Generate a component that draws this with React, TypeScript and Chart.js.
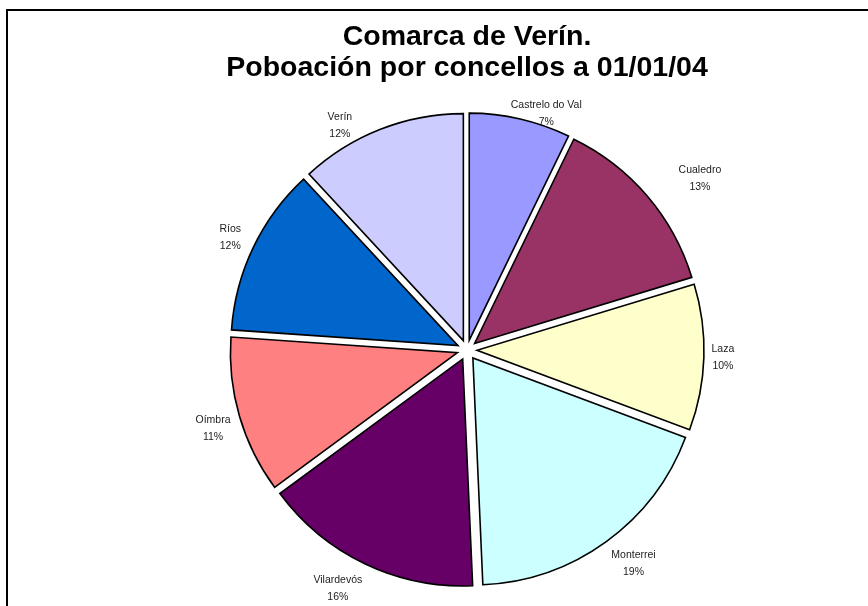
import React, { useEffect, useRef } from 'react';
import { Chart, registerables } from 'chart.js';

Chart.register(...registerables);

// ---- data ----
const CATEGORIES = ['Castrelo do Val', 'Cualedro', 'Laza', 'Monterrei', 'Vilardevós', 'Oímbra', 'Ríos', 'Verín'];
const SHARES = [7.2, 13.1, 10.4, 18.6, 15.6, 11.2, 12.0, 11.9];
const COLORS = ['#9999FF', '#993366', '#FFFFCC', '#CCFFFF', '#660066', '#FF8080', '#0066CC', '#CCCCFF'];
const TITLE_LINES = ['Comarca de Verín.', 'Poboación por concellos a 01/01/04'];

// ---- label layout (relative to each slice) ----
const LABEL_ANGLE_SHIFT = [5.6, 4.2, -0.1, -1.9, 2.9, -1.1, -0.2, -8.1];
const LABEL_GAP = [22, 62, 29, 44, 44, 39, 35, 31];

const EXPLODE = 10;
const FONT = '"Liberation Sans", Arial, sans-serif';

const explodePlugin = {
  id: 'explodeSlices',
  afterDatasetsUpdate(chart: any) {
    const meta = chart.getDatasetMeta(0);
    const { left, right, top, bottom } = chart.chartArea;
    const cx = (left + right) / 2;
    const cy = (top + bottom) / 2;
    meta.data.forEach((arc: any) => {
      const mid = (arc.startAngle + arc.endAngle) / 2;
      arc.x = cx + Math.cos(mid) * EXPLODE;
      arc.y = cy + Math.sin(mid) * EXPLODE;
    });
  },
};

const labelPlugin = {
  id: 'sliceLabels',
  afterDatasetsDraw(chart: any) {
    const ctx = chart.ctx;
    const meta = chart.getDatasetMeta(0);
    const { left, right, top, bottom } = chart.chartArea;
    const cx = (left + right) / 2;
    const cy = (top + bottom) / 2;
    const values = chart.data.datasets[0].data as number[];
    const total = values.reduce((a, b) => a + b, 0);
    ctx.save();
    ctx.font = `10.5px ${FONT}`;
    ctx.fillStyle = '#222';
    ctx.textAlign = 'center';
    ctx.textBaseline = 'middle';
    meta.data.forEach((arc: any, i: number) => {
      const ang = (arc.startAngle + arc.endAngle) / 2 + (LABEL_ANGLE_SHIFT[i] * Math.PI) / 180;
      const r = arc.outerRadius + LABEL_GAP[i];
      const x = cx + Math.cos(ang) * r;
      const y = cy + Math.sin(ang) * r;
      ctx.fillText(String(chart.data.labels[i]), x, y - 8.5);
      ctx.fillText(Math.round((values[i] / total) * 100) + '%', x, y + 8.5);
    });
    ctx.restore();
  },
};

export default function App() {
  const ref = useRef<HTMLCanvasElement>(null);

  useEffect(() => {
    if (!ref.current) return;
    const chart = new Chart(ref.current, {
      type: 'pie',
      data: {
        labels: CATEGORIES,
        datasets: [
          {
            data: SHARES,
            backgroundColor: COLORS,
            borderColor: '#000000',
            borderWidth: 1.6,
            borderJoinStyle: 'miter',
            radius: 227,
          } as any,
        ],
      },
      options: {
        responsive: false,
        animation: false,
        events: [],
        layout: { padding: { left: 66, right: 0, top: 0, bottom: 0 } },
        plugins: {
          legend: { display: false },
          tooltip: { enabled: false },
          title: {
            display: true,
            text: TITLE_LINES,
            color: '#000000',
            font: { family: FONT, size: 28.5, weight: 'bold', lineHeight: 1.088 },
            padding: { top: 21.8, bottom: 0 },
          },
        },
      } as any,
      plugins: [explodePlugin, labelPlugin],
    });
    return () => chart.destroy();
  }, []);

  return (
    <div
      style={{
        position: 'fixed',
        left: 0,
        top: 0,
        width: 868,
        height: 606,
        overflow: 'hidden',
        background: '#ffffff',
      }}
    >
      <canvas ref={ref} width={868} height={616} style={{ display: 'block', position: 'absolute', left: 0, top: 0 }} />
      <div
        style={{
          position: 'absolute',
          left: 6,
          top: 9,
          width: 1000,
          height: 1000,
          borderLeft: '2px solid #000',
          borderTop: '2px solid #000',
          pointerEvents: 'none',
        }}
      />
    </div>
  );
}
